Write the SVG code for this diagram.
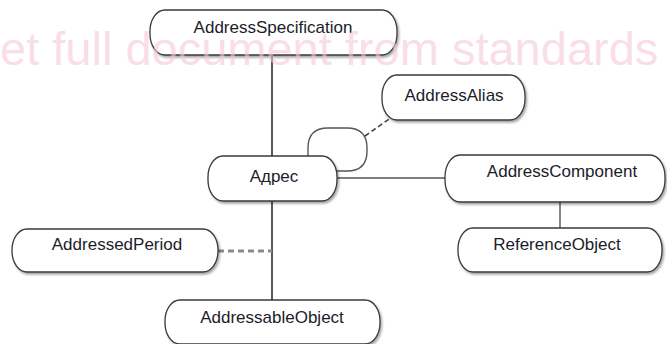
<svg xmlns="http://www.w3.org/2000/svg" width="667" height="344" viewBox="0 0 667 344">
  <defs>
    <filter id="sh" x="-10%" y="-20%" width="125%" height="150%">
      <feDropShadow dx="1.5" dy="2" stdDeviation="1.2" flood-color="#000" flood-opacity="0.35"/>
    </filter>
  </defs>
  <style>
    .node rect { fill: #ffffff; stroke: #3a3a3a; stroke-width: 1.3; filter: url(#sh); }
    .node text { font-family: "Liberation Sans", Arial, sans-serif; font-size: 17px; fill: #1c1c2a; text-anchor: middle; }
    .c { fill: none; stroke: #222; stroke-width: 1.5; }
    .c2 { fill: none; stroke: #555; stroke-width: 1.4; }
    .dash { fill: none; stroke: #444; stroke-width: 1.6; stroke-dasharray: 5 3; }
    .dash2 { fill: none; stroke: #8a8a8a; stroke-width: 3; stroke-dasharray: 6 4; }
    .wm { font-family: "Liberation Sans", Arial, sans-serif; font-size: 47px; fill: #f5c9d6; fill-opacity: 0.6; }
  </style>

  <g id="connectors">
    <line class="c" x1="272" y1="55" x2="272" y2="156"/>
    <line class="c" x1="272" y1="200" x2="272" y2="300"/>
    <line class="c2" x1="337" y1="178" x2="445" y2="178"/>
    <line class="c2" x1="560" y1="202" x2="560" y2="228"/>
    <line class="dash2" x1="218" y1="251" x2="272" y2="251"/>
    <path class="c2" d="M308,157 L308,148 Q308,128 328,128 L347,128 Q367,128 367,148 L367,151 Q367,171 347,171 L337,171"/>
    <line class="dash" x1="365" y1="136" x2="392" y2="117"/>
  </g>

  <g id="AddressSpecification" class="node">
    <rect x="150" y="10" width="247" height="45" rx="15" ry="21"/>
    <text x="273" y="33">AddressSpecification</text>
  </g>
  <g id="AddressAlias" class="node">
    <rect x="382" y="75" width="143" height="45" rx="15" ry="21"/>
    <text x="454" y="101">AddressAlias</text>
  </g>
  <g id="Adres" class="node">
    <rect x="208" y="156" width="129" height="45" rx="15" ry="21"/>
    <text x="274" y="182">Адрес</text>
  </g>
  <g id="AddressComponent" class="node">
    <rect x="445" y="155" width="220" height="47" rx="15" ry="22"/>
    <text x="562" y="177">AddressComponent</text>
  </g>
  <g id="ReferenceObject" class="node">
    <rect x="458" y="228" width="204" height="44" rx="15" ry="21"/>
    <text x="557" y="250">ReferenceObject</text>
  </g>
  <g id="AddressedPeriod" class="node">
    <rect x="12" y="229" width="206" height="43" rx="15" ry="21"/>
    <text x="117" y="250">AddressedPeriod</text>
  </g>
  <g id="AddressableObject" class="node">
    <rect x="165" y="300" width="215" height="44" rx="15" ry="21"/>
    <text x="272" y="323">AddressableObject</text>
  </g>

  <text class="wm" x="0" y="65">et full document from standards</text>
</svg>
